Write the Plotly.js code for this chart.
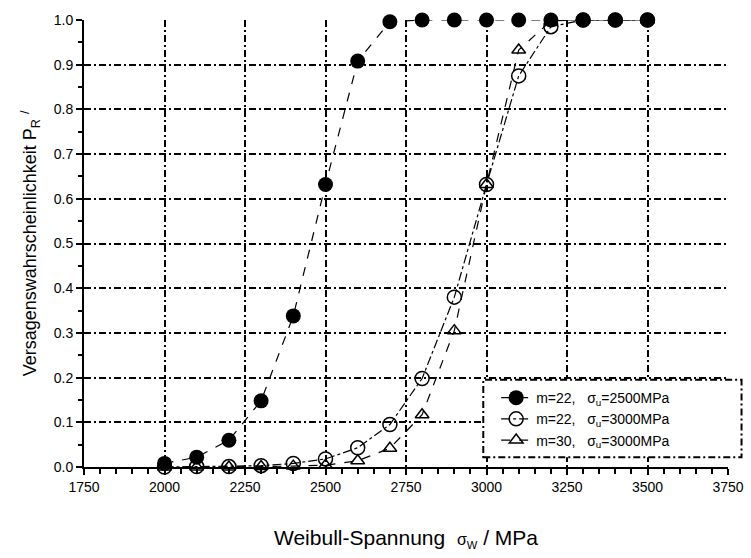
<!DOCTYPE html>
<html>
<head>
<meta charset="utf-8">
<script src="https://cdn.plot.ly/plotly-3.0.1.min.js"></script>
<style>html,body{margin:0;padding:0;background:#fff;}#chart{width:751px;height:558px;}</style>
</head>
<body>
<div id="chart"></div>
<script>
const stress = [2000, 2100, 2200, 2300, 2400, 2500, 2600, 2700, 2800, 2900, 3000, 3100, 3200, 3300, 3400, 3500];
const pM22S2500 = [0.008, 0.022, 0.060, 0.148, 0.338, 0.632, 0.908, 0.996, 1.0, 1.0, 1.0, 1.0, 1.0, 1.0, 1.0, 1.0];
const pM22S3000 = [0.000, 0.001, 0.001, 0.003, 0.008, 0.018, 0.043, 0.095, 0.198, 0.380, 0.632, 0.875, 0.985, 1.0, 1.0, 1.0];
const pM30S3000 = [0.000, 0.000, 0.000, 0.001, 0.002, 0.004, 0.014, 0.042, 0.117, 0.305, 0.632, 0.933, 0.998, 1.0, 1.0, 1.0];
const seriesNames = [
  'm=22,&nbsp;&nbsp;&nbsp;σ<sub>u</sub>=2500MPa',
  'm=22,&nbsp;&nbsp;&nbsp;σ<sub>u</sub>=3000MPa',
  'm=30,&nbsp;&nbsp;&nbsp;σ<sub>u</sub>=3000MPa'
];
const xTickVals = [1750, 2000, 2250, 2500, 2750, 3000, 3250, 3500, 3750];
const yTickVals = [0, 0.1, 0.2, 0.3, 0.4, 0.5, 0.6, 0.7, 0.8, 0.9, 1.0];

const fontFam = 'Liberation Sans, Arial, sans-serif';
const gridDash = '7px,3px,2px,3px';
const traces = [
  {x: stress, y: pM22S2500, name: seriesNames[0], mode: 'lines+markers',
   line: {color: '#000', width: 1.2, dash: 'dash'},
   marker: {symbol: 'circle', size: 15, color: '#000'}, cliponaxis: false},
  {x: stress, y: pM22S3000, name: seriesNames[1], mode: 'lines+markers',
   line: {color: '#000', width: 1.2, dash: 'dashdot'},
   marker: {symbol: 'circle-open', size: 14, color: '#000', line: {width: 1.5, color: '#000'}}, cliponaxis: false},
  {x: stress, y: pM30S3000, name: seriesNames[2], mode: 'lines+markers',
   line: {color: '#000', width: 1.2, dash: 'dash'},
   marker: {symbol: 'triangle-up-open', size: 12, color: '#000', line: {width: 1.5, color: '#000'}}, cliponaxis: false}
];

const layout = {
  width: 751, height: 558,
  margin: {l: 84, r: 23, t: 20, b: 91},
  paper_bgcolor: '#fff', plot_bgcolor: '#fff',
  font: {family: fontFam, color: '#000', size: 14},
  showlegend: true,
  legend: {x: 0.64, y: 0.19, xanchor: 'left', yanchor: 'top',
           bgcolor: 'rgba(0,0,0,0)', borderwidth: 0,
           font: {family: fontFam, size: 14, color: '#000'}, tracegroupgap: 0},
  xaxis: {
    range: [1750, 3750], tickmode: 'array', tickvals: xTickVals,
    ticktext: xTickVals.map(String),
    showline: true, linecolor: '#000', linewidth: 2,
    ticks: 'outside', ticklen: 6, tickwidth: 2, tickcolor: '#000',
    minor: {dtick: 50, tick0: 1750, ticks: 'outside', ticklen: 5, tickwidth: 2, tickcolor: '#000', showgrid: false},
    showgrid: true, gridcolor: '#000', gridwidth: 2, griddash: gridDash,
    zeroline: false,
    tickfont: {size: 14},
    title: {text: 'Weibull-Spannung &nbsp;<span style="font-size:16px">σ<sub>W</sub></span> / MPa', font: {size: 21}, standoff: 37}
  },
  yaxis: {
    range: [0, 1.0], tickmode: 'array', tickvals: yTickVals,
    ticktext: yTickVals.map(v => v.toFixed(1)),
    showline: true, linecolor: '#000', linewidth: 2,
    ticks: 'outside', ticklen: 6, tickwidth: 2, tickcolor: '#000',
    minor: {dtick: 0.05, tick0: 0, ticks: 'outside', ticklen: 4, tickwidth: 2, tickcolor: '#000', showgrid: false},
    showgrid: true, gridcolor: '#000', gridwidth: 2, griddash: gridDash,
    zeroline: false,
    tickfont: {size: 14},
    title: {text: 'Versagenswahrscheinlichkeit P<sub>R</sub> <sup>/</sup>', font: {size: 18}, standoff: 12}
  },
  shapes: [
    {type: 'rect', xref: 'paper', yref: 'paper', x0: 0.62, x1: 1.021, y0: 0.022, y1: 0.195,
     layer: 'above', fillcolor: '#fff', line: {color: '#000', width: 2, dash: gridDash}}
  ]
};

Plotly.newPlot('chart', traces, layout, {displayModeBar: false, staticPlot: true});
</script>
</body>
</html>
